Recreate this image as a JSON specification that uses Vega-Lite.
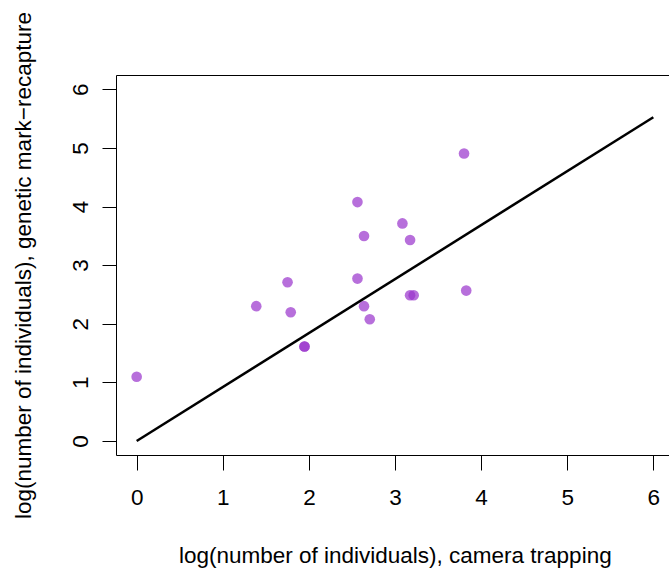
{
  "$schema": "https://vega.github.io/schema/vega-lite/v6.json",
  "width": 553,
  "height": 380,
  "autosize": {"type": "none"},
  "padding": {"left": 116, "top": 75, "right": 0, "bottom": 114},
  "background": "white",
  "config": {
    "view": {"stroke": "#000", "strokeWidth": 1},
    "font": "Liberation Sans",
    "axis": {
      "grid": false,
      "domain": false,
      "tickColor": "#000",
      "tickWidth": 1,
      "labelColor": "#000",
      "titleColor": "#000",
      "labelFont": "Liberation Sans",
      "titleFont": "Liberation Sans",
      "labelFontSize": 22.5,
      "titleFontSize": 22.5,
      "titleFontWeight": "normal",
      "labelFlush": false,
      "labelOverlap": false,
      "format": "d"
    }
  },
  "datasets": {
    "points": [
      {"camera": 0.0, "genetic": 1.095},
      {"camera": 1.389, "genetic": 2.30},
      {"camera": 1.752, "genetic": 2.707},
      {"camera": 1.789, "genetic": 2.196},
      {"camera": 1.949, "genetic": 1.612},
      {"camera": 1.949, "genetic": 1.612},
      {"camera": 2.564, "genetic": 4.075},
      {"camera": 2.564, "genetic": 2.770},
      {"camera": 2.64, "genetic": 3.496},
      {"camera": 2.64, "genetic": 2.30},
      {"camera": 2.707, "genetic": 2.077},
      {"camera": 3.086, "genetic": 3.712},
      {"camera": 3.175, "genetic": 3.428},
      {"camera": 3.175, "genetic": 2.486},
      {"camera": 3.217, "genetic": 2.486},
      {"camera": 3.802, "genetic": 4.904},
      {"camera": 3.827, "genetic": 2.565}
    ],
    "line": [
      {"camera": 0, "genetic": 0},
      {"camera": 6, "genetic": 5.522}
    ]
  },
  "layer": [
    {
      "data": {"name": "points"},
      "mark": {"type": "circle", "size": 113, "color": "#9932CC", "opacity": 0.7, "strokeWidth": 0},
      "encoding": {
        "x": {
          "field": "camera",
          "type": "quantitative",
          "scale": {"domain": [-0.24, 6.182], "nice": false, "zero": false},
          "axis": {
            "orient": "bottom",
            "values": [0, 1, 2, 3, 4, 5, 6],
            "format": "d",
            "tickSize": 15,
            "labelPadding": 16,
            "labelBaseline": "top",
            "labelAlign": "center",
            "title": "log(number of individuals), camera trapping",
            "titleX": 278.8,
            "titleY": 107,
            "titleAlign": "center",
            "titleBaseline": "alphabetic"
          }
        },
        "y": {
          "field": "genetic",
          "type": "quantitative",
          "scale": {"domain": [-0.24, 6.244], "nice": false, "zero": false},
          "axis": {
            "orient": "left",
            "values": [0, 1, 2, 3, 4, 5, 6],
            "format": "d",
            "tickSize": 14,
            "labelAngle": 270,
            "labelAlign": "center",
            "labelBaseline": "alphabetic",
            "labelPadding": 15,
            "title": "log(number of individuals), genetic mark−recapture",
            "titleAngle": 270,
            "titleX": -86,
            "titleY": 190,
            "titleAlign": "center",
            "titleBaseline": "alphabetic"
          }
        }
      }
    },
    {
      "data": {"name": "line"},
      "mark": {"type": "line", "color": "#000", "strokeWidth": 2.5},
      "encoding": {
        "x": {"field": "camera", "type": "quantitative"},
        "y": {"field": "genetic", "type": "quantitative"}
      }
    }
  ]
}
